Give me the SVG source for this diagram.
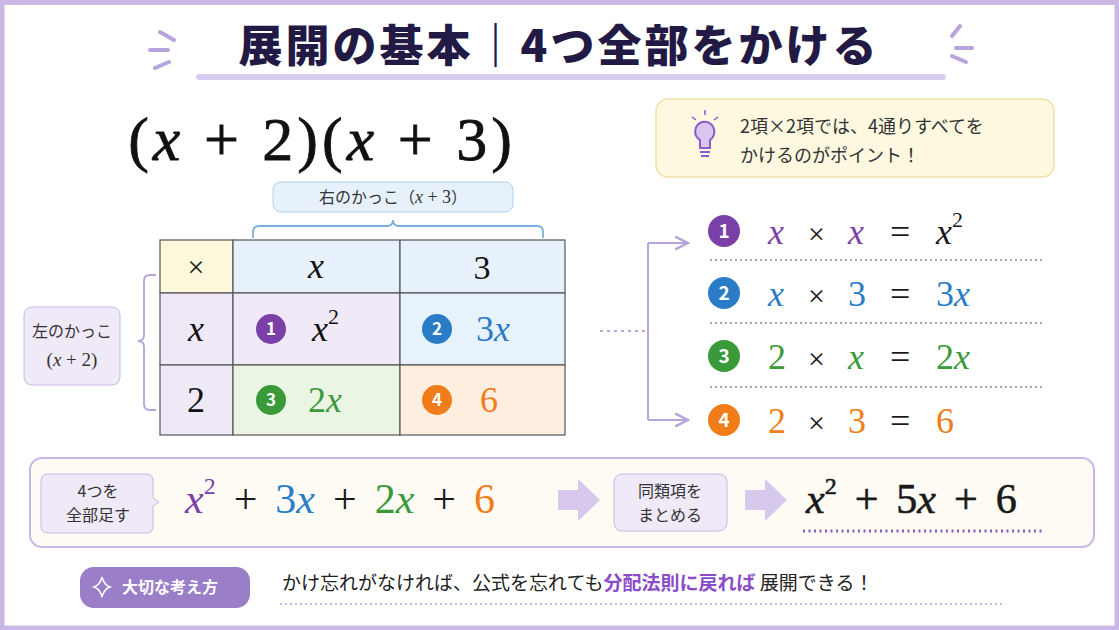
<svg xmlns="http://www.w3.org/2000/svg" width="1119" height="630" viewBox="0 0 1119 630">
<style>
.jp{font-family:"Noto Sans CJK JP","Noto Sans",sans-serif}
.m{font-family:"Liberation Serif","DejaVu Serif",serif}
.i{font-style:italic}
.p{fill:#7b3fa8}.b{fill:#2a7cc7}.g{fill:#3a9a3a}.o{fill:#f07d1a}.k{fill:#1a1a1a}
.cell{stroke:#555;stroke-width:1.2}
.sep{stroke:#8a8a9a;stroke-width:1.5;stroke-dasharray:2 3}
.lv{fill:none;stroke:#b7a4dc;stroke-width:2}
</style>
<defs>
<marker id="ah" viewBox="0 0 10 10" refX="9" refY="5" markerWidth="8" markerHeight="8" orient="auto"><path d="M1 1L9 5L1 9" fill="none" stroke="#b7a4dc" stroke-width="1.5"/></marker>
</defs>
<rect x="2" y="2" width="1115" height="626" fill="#fff" stroke="#c9b8e6" stroke-width="5"/>
<rect x="0" y="0" width="1119" height="5" fill="#c9b8e6"/>
<g id="title">
<rect x="196" y="74" width="750" height="6" rx="3" fill="#d8cdef"/>
<text x="559" y="62" text-anchor="middle" class="jp" font-size="44" font-weight="900" fill="#221a44" letter-spacing="3">展開の基本｜4つ全部をかける</text>
<path d="M160 32l14 8M150 50h18M155 68l14-6M960 26l-8 10M972 48h-16M966 62l-14-6" stroke="#b7a4dc" stroke-width="4" stroke-linecap="round"/>
</g>
<g id="expr"><text x="322" y="160" text-anchor="middle" class="m" font-size="62" fill="#111" stroke="#111" stroke-width="0.8" letter-spacing="4">(<tspan class="i">x</tspan> + 2)(<tspan class="i">x</tspan> + 3)</text></g>
<g id="tip">
<rect x="656" y="99" width="398" height="78" rx="12" fill="#fdf8df" stroke="#f0e0a8" stroke-width="1.5"/>
<path d="M702 122a10 10 0 0 1 8 18v8h-10v-8a10 10 0 0 1 2-18z" fill="#d7c6f0" stroke="#8a5cc7" stroke-width="2"/>
<path d="M700 152h10M701 156h8" stroke="#8a5cc7" stroke-width="2"/>
<path d="M705 110v5M692 117l4 3M718 117l-4 3" stroke="#8a5cc7" stroke-width="1.5"/>
<text x="740" y="133" class="jp" font-size="18" fill="#333">2項×2項では、4通りすべてを</text>
<text x="740" y="162" class="jp" font-size="18" fill="#333">かけるのがポイント！</text>
</g>
<g id="rightlabel">
<rect x="273" y="182" width="240" height="30" rx="8" fill="#e6f1fb" stroke="#b0d0ee"/>
<text x="393" y="203" text-anchor="middle" class="jp" font-size="16" fill="#333">右のかっこ（<tspan class="m i" font-size="18">x</tspan><tspan class="m" font-size="18"> + 3</tspan>）</text>
<path d="M253 238v-6q0-6 6-6h128q6 0 6-6q0 6 6 6h138q6 0 6 6v6" fill="none" stroke="#7ab0e0" stroke-width="1.8"/>
</g>
<g id="leftlabel">
<rect x="24" y="307" width="96" height="78" rx="8" fill="#efe9f8" stroke="#c9b8e6"/>
<text x="72" y="337" text-anchor="middle" class="jp" font-size="16" fill="#333">左のかっこ</text>
<text x="72" y="366" text-anchor="middle" class="m" font-size="19" fill="#333">(<tspan class="i">x</tspan> + 2)</text>
<path d="M156 275h-6q-6 0-6 6v54q0 6-6 6q6 0 6 6v57q0 6 6 6h6" fill="none" stroke="#b7a4dc" stroke-width="1.8"/>
</g>
<g id="table">
<rect class="cell" x="160" y="240" width="73" height="53" fill="#fdf7dc"/>
<rect class="cell" x="233" y="240" width="167" height="53" fill="#e6f1fb"/>
<rect class="cell" x="400" y="240" width="165" height="53" fill="#e6f1fb"/>
<rect class="cell" x="160" y="293" width="73" height="72" fill="#eee8f7"/>
<rect class="cell" x="233" y="293" width="167" height="72" fill="#efe9f8"/>
<rect class="cell" x="400" y="293" width="165" height="72" fill="#e8f2fc"/>
<rect class="cell" x="160" y="365" width="73" height="70" fill="#eee8f7"/>
<rect class="cell" x="233" y="365" width="167" height="70" fill="#eaf5e4"/>
<rect class="cell" x="400" y="365" width="165" height="70" fill="#fdeedf"/>
<text x="196" y="277" text-anchor="middle" class="m" font-size="30" fill="#222">×</text>
<text x="316" y="278" text-anchor="middle" class="m i" font-size="36" fill="#111">x</text>
<text x="482" y="279" text-anchor="middle" class="m" font-size="34" fill="#111">3</text>
<text x="196" y="341" text-anchor="middle" class="m i" font-size="36" fill="#111">x</text>
<text x="196" y="412" text-anchor="middle" class="m" font-size="36" fill="#111">2</text>
<circle cx="271" cy="329" r="15" fill="#7b3fa8"/><text x="271" y="335" text-anchor="middle" class="jp" font-size="17" font-weight="700" fill="#fff">1</text>
<text x="312" y="341" class="m i" font-size="36" fill="#111">x<tspan class="m" font-style="normal" font-size="22" dy="-17">2</tspan></text>
<circle cx="437" cy="329" r="15" fill="#2a7cc7"/><text x="437" y="335" text-anchor="middle" class="jp" font-size="17" font-weight="700" fill="#fff">2</text>
<text x="476" y="341" class="m b" font-size="36">3<tspan class="i">x</tspan></text>
<circle cx="271" cy="400" r="15" fill="#3a9a3a"/><text x="271" y="406" text-anchor="middle" class="jp" font-size="17" font-weight="700" fill="#fff">3</text>
<text x="308" y="412" class="m g" font-size="36">2<tspan class="i">x</tspan></text>
<circle cx="437" cy="400" r="15" fill="#f07d1a"/><text x="437" y="406" text-anchor="middle" class="jp" font-size="17" font-weight="700" fill="#fff">4</text>
<text x="480" y="412" class="m o" font-size="36">6</text>
</g>
<g id="connectors">
<path d="M600 331h45" class="lv" stroke-dasharray="3 4"/>
<path d="M648 243v177" class="lv"/>
<path d="M648 243h40" class="lv" marker-end="url(#ah)"/>
<path d="M648 420h40" class="lv" marker-end="url(#ah)"/>
</g>
<g id="products">
<circle cx="724" cy="231" r="16" fill="#7b3fa8"/><text x="724" y="238" text-anchor="middle" class="jp" font-size="19" font-weight="700" fill="#fff">1</text>
<text y="244" class="m" font-size="36"><tspan x="768" class="i p">x</tspan><tspan x="808" class="k" font-size="30">×</tspan><tspan x="848" class="i p">x</tspan><tspan x="890" class="k">=</tspan><tspan x="936" class="i k">x</tspan><tspan class="k" font-size="22" dy="-17">2</tspan></text>
<line x1="710" y1="260" x2="1045" y2="260" class="sep"/>
<circle cx="724" cy="293" r="16" fill="#2a7cc7"/><text x="724" y="300" text-anchor="middle" class="jp" font-size="19" font-weight="700" fill="#fff">2</text>
<text y="306" class="m" font-size="36"><tspan x="768" class="i b">x</tspan><tspan x="808" class="k" font-size="30">×</tspan><tspan x="848" class="b">3</tspan><tspan x="890" class="k">=</tspan><tspan x="936" class="b">3<tspan class="i">x</tspan></tspan></text>
<line x1="710" y1="323" x2="1045" y2="323" class="sep"/>
<circle cx="724" cy="356" r="16" fill="#3a9a3a"/><text x="724" y="363" text-anchor="middle" class="jp" font-size="19" font-weight="700" fill="#fff">3</text>
<text y="369" class="m" font-size="36"><tspan x="768" class="g">2</tspan><tspan x="808" class="k" font-size="30">×</tspan><tspan x="848" class="i g">x</tspan><tspan x="890" class="k">=</tspan><tspan x="936" class="g">2<tspan class="i">x</tspan></tspan></text>
<line x1="710" y1="387" x2="1045" y2="387" class="sep"/>
<circle cx="724" cy="420" r="16" fill="#f07d1a"/><text x="724" y="427" text-anchor="middle" class="jp" font-size="19" font-weight="700" fill="#fff">4</text>
<text y="433" class="m" font-size="36"><tspan x="768" class="o">2</tspan><tspan x="808" class="k" font-size="30">×</tspan><tspan x="848" class="o">3</tspan><tspan x="890" class="k">=</tspan><tspan x="936" class="o">6</tspan></text>
</g>
<g id="sumpanel">
<rect x="30" y="458" width="1064" height="89" rx="12" fill="#fdfbf3" stroke="#c9b8e6" stroke-width="2"/>
<path d="M48 474h98q7 0 7 7v17l6 4l-6 4v20q0 7-7 7h-98q-7 0-7-7v-45q0-7 7-7z" fill="#efe9f8" stroke="#c9b8e6"/>
<text x="98" y="497" text-anchor="middle" class="jp" font-size="16" fill="#333">4つを</text>
<text x="98" y="521" text-anchor="middle" class="jp" font-size="16" fill="#333">全部足す</text>
<text y="513" class="m" font-size="42"><tspan x="185" class="i p">x</tspan><tspan class="p" font-size="24" dy="-19">2</tspan><tspan dy="19" dx="18" class="k">+</tspan><tspan dx="18" class="b">3<tspan class="i">x</tspan></tspan><tspan dx="18" class="k">+</tspan><tspan dx="18" class="g">2<tspan class="i">x</tspan></tspan><tspan dx="18" class="k">+</tspan><tspan dx="18" class="o">6</tspan></text>
<path d="M558 490h20v-11l22 21l-22 21v-11h-20z" fill="#d7c9ee"/>
<rect x="614" y="474" width="113" height="57" rx="8" fill="#efe9f8" stroke="#c9b8e6"/>
<text x="670" y="497" text-anchor="middle" class="jp" font-size="16" fill="#333">同類項を</text>
<text x="670" y="521" text-anchor="middle" class="jp" font-size="16" fill="#333">まとめる</text>
<path d="M745 490h20v-11l22 21l-22 21v-11h-20z" fill="#d7c9ee"/>
<text y="513" class="m k" font-size="42" stroke="#1a1a1a" stroke-width="0.6"><tspan x="806" class="i">x</tspan><tspan font-size="24" dy="-19">2</tspan><tspan dy="19" dx="18">+</tspan><tspan dx="18">5<tspan class="i">x</tspan></tspan><tspan dx="18">+</tspan><tspan dx="18">6</tspan></text>
<line x1="803" y1="531" x2="1045" y2="531" stroke="#8a5cc7" stroke-width="3" stroke-dasharray="2 3.5"/>
</g>
<g id="note">
<rect x="80" y="567" width="170" height="41" rx="14" fill="#9a7fc8"/>
<path d="M102 577q2 8 8 10q-6 2-8 10q-2-8-8-10q6-2 8-10z" fill="none" stroke="#fff" stroke-width="1.5"/>
<text x="122" y="593" class="jp" font-size="16" font-weight="700" fill="#fff">大切な考え方</text>
<text x="282" y="590" class="jp" font-size="19" fill="#222">かけ忘れがなければ、公式を忘れても<tspan fill="#8a4cc7" font-weight="700">分配法則に戻れば</tspan> 展開できる！</text>
<line x1="280" y1="604" x2="1005" y2="604" stroke="#c9b8e6" stroke-width="2" stroke-dasharray="2 3"/>
</g>
</svg>
